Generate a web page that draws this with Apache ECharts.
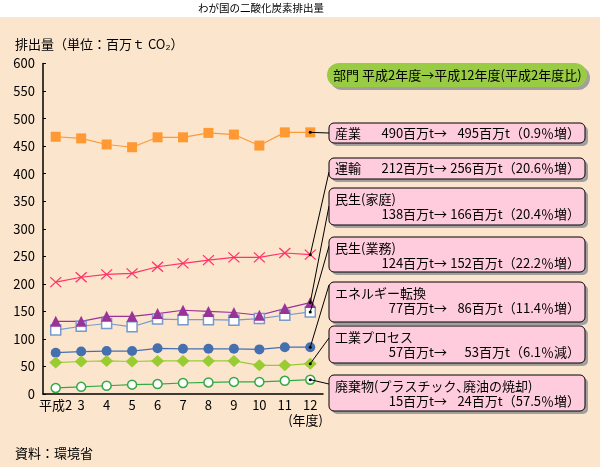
<!DOCTYPE html>
<html><head><meta charset="utf-8">
<script src="https://cdn.jsdelivr.net/npm/echarts@6/dist/echarts.min.js"></script>
<style>html,body{margin:0;padding:0;background:#fff}
#c{width:600px;height:467px;background:linear-gradient(#fff 0,#fff 17px,#FCE5CD 17px)}</style>
</head><body><div id="c"></div>
<script>
const categories = ['平成2','3','4','5','6','7','8','9','10','11','12'];
const industry   = [467,464,453,448,466,466,474,471,451,475,475];
const transport  = [203,212,217,219,231,237,243,248,248,256,253];
const household  = [132,132,141,141,146,152,150,148,143,155,166];
const commercial = [116,123,128,122,136,135,135,134,137,143,149];
const energy     = [75,77,78,78,83,82,82,82,81,85,85];
const process    = [57,59,60,59,60,60,60,60,52,52,55];
const waste      = [11,13,15,17,18,20,21,22,22,24,26];

const boxNames = ['産業','運輸','民生(家庭)','民生(業務)','エネルギー転換','工業プロセス','廃棄物(プラスチック､廃油の焼却)'];
const boxFrom  = ['490百万t→','212百万t→','138百万t→','124百万t→','77百万t→','57百万t→','15百万t→'];
const boxTo    = ['495百万t（0.9％増）','256百万t（20.6％増）','166百万t（20.4％増）','152百万t（22.2％増）','86百万t（11.4％増）','53百万t（6.1％減）','24百万t（57.5％増）'];
const header   = '部門 平成2年度→平成12年度(平成2年度比)';

const FF = "'Noto Sans CJK JP', sans-serif";
const chart = echarts.init(document.getElementById('c'));

function ser(name, data, symbol, size, fill, stroke, lineColor, bw) {
  return {
    name, type: 'line', data, symbol, symbolSize: size, showAllSymbol: true,
    lineStyle: {color: lineColor, width: 1.2},
    itemStyle: {color: fill, borderColor: stroke, borderWidth: bw},
    emphasis: {disabled: true}, animation: false
  };
}

const seriesList = [
  ser('産業', industry, 'rect', 10, '#FF9933', '#FF9933', '#FF9933', 0),
  ser('運輸', transport, 'path://M0 0L10 9M10 0L0 9', [11, 10], 'none', '#FF3366', '#FF3366', 1.2),
  ser('民生(業務)', commercial, 'rect', [10, 10], '#FFFFFF', '#7799CC', '#7799CC', 1.5),
  ser('民生(家庭)', household, 'triangle', [11, 11], '#993399', '#993399', '#993399', 0),
  ser('エネルギー転換', energy, 'circle', 10, '#4470B0', '#4470B0', '#4470B0', 0),
  ser('工業プロセス', process, 'diamond', [13, 12], '#99CC33', '#99CC33', '#99CC33', 0),
  ser('廃棄物', waste, 'circle', 9, '#FFFFFF', '#33AA44', '#33AA44', 1.5)
];

chart.setOption({
  animation: false,
  backgroundColor: 'transparent',
  textStyle: {fontFamily: FF},
  grid: {left: 43, right: 277, top: 63.5, bottom: 73},
  xAxis: {
    type: 'category', data: categories, boundaryGap: true,
    axisLine: {lineStyle: {color: '#000', width: 1.5}},
    axisTick: {show: false},
    axisLabel: {color: '#000', fontSize: 13, margin: 5, interval: 0, fontFamily: FF}
  },
  yAxis: {
    type: 'value', min: 0, max: 600, interval: 50,
    axisLine: {show: true, lineStyle: {color: '#000', width: 1.5}},
    axisTick: {show: true, inside: true, length: 3, lineStyle: {color: '#000'}},
    splitLine: {show: false},
    axisLabel: {color: '#000', fontSize: 13, margin: 8, fontFamily: FF}
  },
  series: seriesList
});

// annotation boxes
const boxTop  = [123, 158, 188, 237, 282, 326, 375];
const boxBot  = [143, 179, 225, 272, 322, 363, 411];
const attachY = [133, 172, 206, 246, 285, 338, 384];
const boxSeriesIdx = [0, 1, 3, 2, 4, 5, 6];
const BX = 329, BR = 585;

const g = [];
g.push({type: 'text', x: 261, y: 8, style: {text: 'わが国の二酸化炭素排出量', font: '10.5px ' + FF, fill: '#000', align: 'center', verticalAlign: 'middle'}});
g.push({type: 'text', left: 15, top: 38, style: {text: '排出量（単位：百万ｔ CO₂）', font: '13px ' + FF, fill: '#000'}});
g.push({type: 'text', x: 323, y: 420, style: {text: '(年度)', font: '13px ' + FF, fill: '#000', align: 'right', verticalAlign: 'middle'}});
g.push({type: 'text', left: 15, top: 447, style: {text: '資料：環境省', font: '13px ' + FF, fill: '#000'}});
// header pill
g.push({type: 'rect', shape: {x: 330, y: 66, width: 260, height: 24, r: 12}, style: {fill: '#A0A0A0'}});
g.push({type: 'rect', shape: {x: 327, y: 63, width: 260, height: 24, r: 12}, style: {fill: '#99CC44'}});
g.push({type: 'text', x: 333, y: 75, style: {text: header, font: '13px ' + FF, fill: '#000', verticalAlign: 'middle'}});

for (let i = 0; i < boxNames.length; i++) {
  const t = boxTop[i], b = boxBot[i], h = b - t;
  const si = boxSeriesIdx[i];
  const data = seriesList[si].data;
  const p = chart.convertToPixel({seriesIndex: si}, [data.length - 1, data[data.length - 1]]);
  g.push({type: 'line', shape: {x1: p[0], y1: p[1], x2: BX, y2: attachY[i]}, style: {stroke: '#000', lineWidth: 1}, z: 10});
  g.push({type: 'circle', shape: {cx: p[0], cy: p[1], r: 1.5}, style: {fill: '#000'}, z: 10});
  g.push({type: 'rect', shape: {x: BX + 3, y: t + 3, width: BR - BX, height: h, r: 5}, style: {fill: '#A0A0A0'}, z: 9});
  g.push({type: 'rect', shape: {x: BX, y: t, width: BR - BX, height: h, r: 5}, style: {fill: '#FFCCDD', stroke: '#000', lineWidth: 1}, z: 10});
  const single = h < 25;
  const y1 = single ? (t + b) / 2 : t + 11.5;
  const y2 = single ? (t + b) / 2 : t + 26;
  g.push({type: 'text', x: 335, y: y1, z: 11, style: {text: boxNames[i], font: '13px ' + FF, fill: '#000', verticalAlign: 'middle'}});
  g.push({type: 'text', x: 447, y: y2, z: 11, style: {text: boxFrom[i], font: '13px ' + FF, fill: '#000', align: 'right', verticalAlign: 'middle'}});
  g.push({type: 'text', x: 580, y: y2, z: 11, style: {text: boxTo[i], font: '13px ' + FF, fill: '#000', align: 'right', verticalAlign: 'middle'}});
}
chart.setOption({graphic: g});
</script></body></html>
